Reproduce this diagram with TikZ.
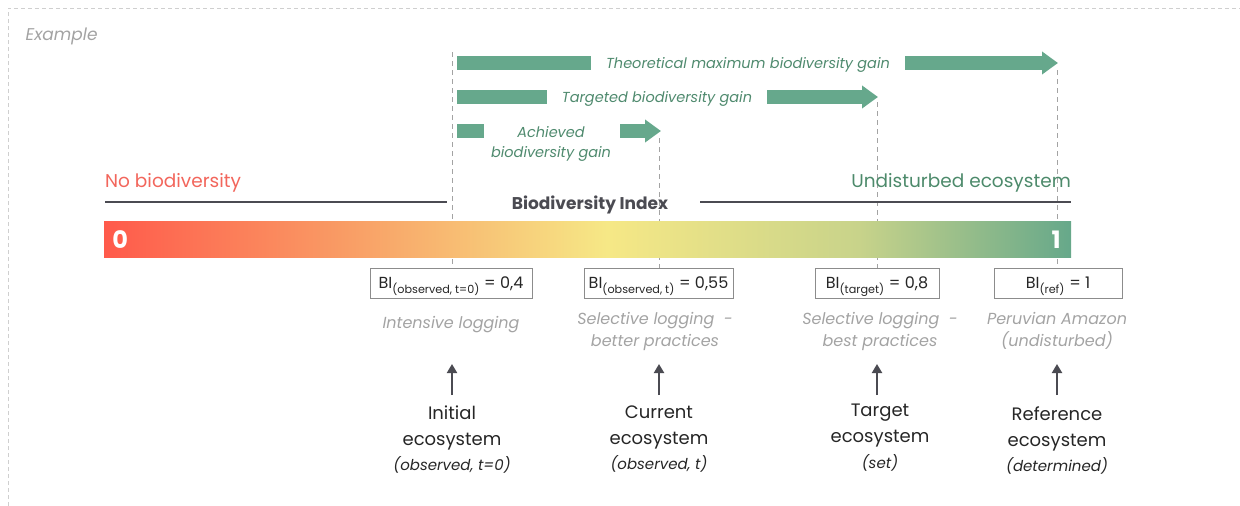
\documentclass[tikz,border=0pt]{standalone}
\usepackage{fontspec}
\setmainfont{Poppins}
\usetikzlibrary{arrows.meta,positioning}

\definecolor{gaingreen}{HTML}{66A88C}
\definecolor{gaintext}{HTML}{4F8A6E}
\definecolor{nobio}{HTML}{F2665C}
\definecolor{undist}{HTML}{4D8A6B}
\definecolor{axisgray}{HTML}{4B4B52}
\definecolor{boxgray}{HTML}{8C8C8C}
\definecolor{descgray}{HTML}{A3A3A3}
\definecolor{framegray}{HTML}{CFCFCF}
\definecolor{bired}{HTML}{FF5A4B}
\definecolor{biorange}{HTML}{F99A64}
\definecolor{biyellow}{HTML}{F6E886}
\definecolor{biolive}{HTML}{C8D38A}
\definecolor{bigreen}{HTML}{66A88A}

\pgfdeclarehorizontalshading{biscale}{100bp}{color(0bp)=(bired); color(25bp)=(bired);
  color(37bp)=(biorange); color(51bp)=(biyellow); color(64bp)=(biolive);
  color(75bp)=(bigreen); color(100bp)=(bigreen)}

\begin{document}
\begin{tikzpicture}
[x=1pt,y=-1pt,
 frame/.style={draw=framegray,line width=1pt,dash pattern=on 4pt off 3pt},
 gain/.style={draw=gaingreen,line width=14pt},
 gaintip/.style={gain,-{Triangle[length=16pt,width=22pt]}},
 gainlabel/.style={text=gaintext,font=\fontsize{14.5}{20}\selectfont\itshape,inner xsep=15pt,inner ysep=0pt,align=center},
 tick/.style={draw=descgray,line width=1pt,dash pattern=on 5pt off 4pt},
 bivalue/.style={draw=boxgray,line width=1pt,minimum height=30pt,inner xsep=0pt,text height=14pt,text depth=3pt,font=\fontsize{16}{18}\selectfont,text=black!85},
 desc/.style={text=descgray,font=\fontsize{16}{22}\selectfont\itshape,align=center},
 eco/.style={font=\fontsize{18}{26}\selectfont,align=center,text=black!85,anchor=north},
 upa/.style={draw=axisgray,line width=2pt,-{Triangle[length=9pt,width=10pt]}}]

\useasboundingbox (0,0) rectangle (1240,506);
\draw[frame] (8,506) -- (8,8) -- (1240,8);
\node (example) at (22,36) [anchor=west,text=descgray,font=\fontsize{17}{20}\selectfont\itshape] {Example};

% dashed markers
\coordinate (m1) at (452,52);
\coordinate (m2) at (659,138);
\coordinate (m3) at (877,102);
\coordinate (m4) at (1057,70);

\node (b1) at (451,283) [bivalue,minimum width=162pt] {BI\textsubscript{(observed, t=0)} = 0,4};
\node (b2) at (658.5,283) [bivalue,minimum width=149pt] {BI\textsubscript{(observed, t)} = 0,55};
\node (b3) at (877,283) [bivalue,minimum width=124pt] {BI\textsubscript{(target)} = 0,8};
\node (b4) at (1058,283) [bivalue,minimum width=128pt] {BI\textsubscript{(ref)} = 1};

\draw[tick] (m1) -- (m1 |- b1.north);
\draw[tick] (m2) -- (m2 |- b2.north);
\draw[tick] (m3) -- (m3 |- b3.north);
\draw[tick] (m4) -- (m4 |- b4.north);

% gain arrows
\coordinate (g1s) at (457,63);
\coordinate (g1e) at (1058,63);
\node (g1) at (748,65) [gainlabel] {Theoretical maximum biodiversity gain};
\draw[gain] (g1s) -- (g1.west |- g1s);
\draw[gaintip] (g1.east |- g1s) -- (g1e);

\coordinate (g2s) at (457,97);
\coordinate (g2e) at (878,97);
\node (g2) at (657,99) [gainlabel] {Targeted biodiversity gain};
\draw[gain] (g2s) -- (g2.west |- g2s);
\draw[gaintip] (g2.east |- g2s) -- (g2e);

\coordinate (g3s) at (457,131);
\coordinate (g3a) at (484,131);
\coordinate (g3b) at (620,131);
\coordinate (g3e) at (661,131);
\node (g3) at (551,144) [gainlabel,inner xsep=0pt] {Achieved\\biodiversity gain};
\draw[gain] (g3s) -- (g3a);
\draw[gaintip] (g3b) -- (g3e);

% scale
\node (nobio) at (105,183) [anchor=west,inner xsep=0pt,text=nobio,font=\fontsize{18.5}{20}\selectfont] {No biodiversity};
\node (undist) at (1071,183) [anchor=east,inner xsep=0pt,text=undist,font=\fontsize{18.5}{20}\selectfont] {Undisturbed ecosystem};
\node (bidx) at (590,205) [text=axisgray,font=\fontsize{17}{20}\selectfont\bfseries] {Biodiversity Index};
\coordinate (ax0) at (105,202);
\coordinate (ax1) at (447,202);
\coordinate (ax2) at (700,202);
\coordinate (ax3) at (1071,202);
\draw[axisgray,line width=2.5pt] (ax0) -- (ax1);
\draw[axisgray,line width=2.5pt] (ax2) -- (ax3);

\node (bar) at (587.5,239) [shading=biscale,minimum width=967pt,minimum height=36pt,inner sep=0pt] {};
\node (zero) at (bar.west) [anchor=west,xshift=5pt,yshift=-1pt,text=white,font=\fontsize{24}{26}\selectfont\bfseries] {0};
\node (one) at (bar.east) [anchor=east,xshift=-7pt,yshift=-1pt,text=white,font=\fontsize{24}{26}\selectfont\bfseries] {1};

% descriptions
\node (d1) at (451,325) [desc] {Intensive logging};
\node (d2) at (655,331) [desc] {Selective logging\ \ -\\better practices};
\node (d3) at (880,331) [desc] {Selective logging\ \ -\\best practices};
\node (d4) at (1057,331) [desc] {Peruvian Amazon\\(undisturbed)};

% ecosystems
\node (e1) at (452,402) [eco] {Initial\\ecosystem\\[-1pt]{\fontsize{15}{20}\selectfont\itshape (observed, t=0)}};
\node (e2) at (659,402) [eco] {Current\\ecosystem\\[-1pt]{\fontsize{15}{20}\selectfont\itshape (observed, t)}};
\node (e3) at (880,400) [eco] {Target\\ecosystem\\[0pt]{\fontsize{15}{20}\selectfont\itshape (set)}};
\node (e4) at (1057,403) [eco] {Reference\\ecosystem\\[-1pt]{\fontsize{15}{20}\selectfont\itshape (determined)}};

\coordinate (u1) at (452,364);
\coordinate (u2) at (659,364);
\coordinate (u3) at (877,364);
\coordinate (u4) at (1057,364);
\draw[upa] (u1 |- 0,395) -- (u1);
\draw[upa] (u2 |- 0,395) -- (u2);
\draw[upa] (u3 |- 0,395) -- (u3);
\draw[upa] (u4 |- 0,395) -- (u4);
\end{tikzpicture}
\end{document}
